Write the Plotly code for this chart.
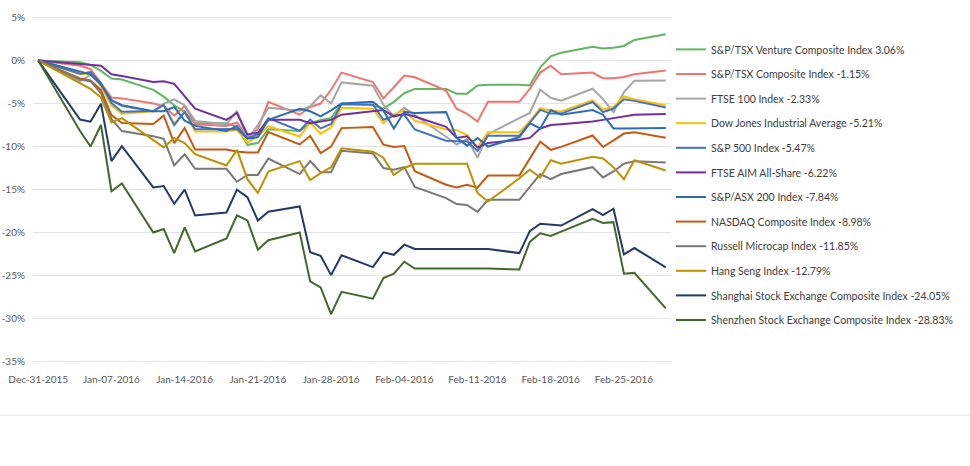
import plotly.graph_objects as go

dates = ["2015-12-31",
         "2016-01-04", "2016-01-05", "2016-01-06", "2016-01-07", "2016-01-08",
         "2016-01-11", "2016-01-12", "2016-01-13", "2016-01-14", "2016-01-15",
         "2016-01-18", "2016-01-19", "2016-01-20", "2016-01-21", "2016-01-22",
         "2016-01-25", "2016-01-26", "2016-01-27", "2016-01-28", "2016-01-29",
         "2016-02-01", "2016-02-02", "2016-02-03", "2016-02-04", "2016-02-05",
         "2016-02-08", "2016-02-09", "2016-02-10", "2016-02-11", "2016-02-12",
         "2016-02-15", "2016-02-16", "2016-02-17", "2016-02-18", "2016-02-19",
         "2016-02-22", "2016-02-23", "2016-02-24", "2016-02-25", "2016-02-26",
         "2016-02-29"]

tsx_venture = [0, -0.2, -0.5, -1.2, -2.1, -2.2, -3.4, -4.2, -5.2, -6.0, -7.3,
               -7.3, -7.7, -9.8, -9.6, -8.0, -8.2, -7.3, -6.9, -6.7, -5.0,
               -5.2, -5.6, -4.8, -3.8, -3.3, -3.3, -3.85, -3.85, -2.9, -2.8,
               -2.8, -2.9, -0.8, 0.5, 0.9, 1.6, 1.4, 1.5, 1.7, 2.4, 3.06]
tsx_comp = [0, -0.6, -1.0, -2.6, -4.3, -4.4, -5.0, -5.3, -6.4, -5.3, -7.4,
            -7.6, -7.2, -8.8, -8.0, -4.8, -6.3, -5.4, -5.0, -3.4, -1.4,
            -2.5, -4.4, -3.1, -1.75, -1.95, -3.5, -5.6, -6.2, -7.1, -4.8,
            -4.8, -3.3, -1.4, -0.6, -1.6, -1.4, -2.05, -2.05, -1.9, -1.6, -1.15]
ftse100 = [0, -2.39, -1.68, -2.71, -4.62, -5.28, -5.94, -5.02, -4.51, -5.19, -7.02,
           -7.41, -5.85, -9.11, -7.51, -5.48, -5.85, -5.30, -4.04, -4.98, -2.54,
           -2.92, -5.13, -6.49, -5.50, -6.32, -8.86, -9.77, -9.13, -11.30, -8.57,
           -6.70, -6.09, -3.40, -4.33, -4.68, -3.28, -4.48, -6.01, -3.68, -2.34, -2.33]
dow = [0, -1.58, -1.53, -2.98, -5.23, -6.19, -5.89, -5.22, -7.31, -6.00, -8.25,
       -8.25, -8.09, -9.52, -8.85, -7.64, -8.84, -7.22, -8.50, -7.78, -5.50,
       -5.60, -7.30, -6.25, -5.79, -7.00, -8.02, -8.10, -8.67, -10.13, -8.33,
       -8.33, -7.05, -5.57, -5.81, -5.93, -4.62, -5.70, -5.40, -4.18, -4.51, -5.21]
sp500 = [0, -1.53, -1.34, -2.63, -4.93, -5.96, -5.88, -5.15, -7.52, -5.97, -8.00,
         -8.00, -7.95, -9.03, -8.56, -6.70, -8.16, -6.86, -7.88, -7.37, -5.07,
         -5.11, -6.89, -6.43, -6.29, -8.02, -9.32, -9.38, -9.40, -10.51, -8.76,
         -8.76, -7.26, -5.73, -6.17, -6.17, -4.82, -6.00, -5.58, -4.51, -4.69, -5.47]
ftse_aim = [0, -0.4, -0.5, -0.6, -1.6, -1.8, -2.5, -2.4, -2.7, -4.2, -5.6,
            -6.9, -6.1, -8.6, -8.4, -6.9, -6.9, -7.3, -7.1, -6.9, -6.3,
            -5.95, -5.75, -6.5, -6.2, -6.5, -7.7, -9.0, -8.8, -10.1, -9.6,
            -9.2, -9.0, -7.9, -7.5, -7.4, -7.1, -6.9, -6.7, -6.5, -6.3, -6.22]
asx200 = [0, -1.3, -1.6, -2.8, -4.6, -5.2, -5.9, -5.9, -5.4, -7.0, -7.6,
          -8.2, -7.6, -9.1, -8.9, -6.9, -5.6, -5.9, -6.5, -5.8, -5.0,
          -4.8, -5.8, -7.9, -5.95, -6.1, -6.0, -9.0, -9.9, -9.0, -10.0,
          -8.9, -7.3, -7.9, -5.75, -6.3, -5.75, -6.3, -7.9, -7.9, -7.9, -7.84]
nasdaq = [0, -2.08, -2.32, -3.43, -6.35, -7.26, -7.38, -6.42, -9.61, -7.84, -10.36,
          -10.36, -10.59, -10.70, -10.69, -8.31, -9.76, -8.78, -10.77, -10.00, -7.86,
          -7.73, -9.79, -10.05, -9.94, -12.87, -14.45, -14.75, -14.45, -14.79, -13.38,
          -13.38, -11.41, -9.45, -10.38, -10.04, -8.72, -10.06, -9.28, -8.49, -8.33, -8.98]
russell_micro = [0, -2.2, -2.4, -3.8, -6.8, -8.2, -8.8, -9.1, -12.2, -10.9, -12.6,
                 -12.6, -14.1, -13.3, -13.3, -11.4, -13.2, -11.7, -13.0, -13.0, -10.5,
                 -10.8, -12.5, -12.7, -12.4, -14.7, -16.0, -16.7, -16.8, -17.6, -16.2,
                 -16.2, -14.7, -13.2, -13.8, -13.2, -12.4, -13.6, -12.9, -12.0, -11.7, -11.85]
hang_seng = [0, -2.7, -3.3, -4.3, -7.2, -6.7, -9.2, -10.1, -9.0, -9.6, -10.9,
             -12.2, -10.4, -13.8, -15.4, -12.9, -11.7, -13.9, -13.1, -12.4, -10.2,
             -10.6, -11.3, -13.3, -12.5, -12.0, -12.0, -12.0, -12.0, -15.4, -16.4,
             -13.7, -12.7, -13.6, -11.6, -12.0, -11.2, -11.4, -12.4, -13.8, -11.6, -12.79]
shanghai = [0, -6.86, -7.11, -5.01, -11.70, -9.97, -14.76, -14.59, -16.66, -15.02, -18.03,
            -17.67, -15.02, -15.89, -18.61, -17.59, -16.97, -22.30, -22.71, -24.96, -22.65,
            -24.03, -22.31, -22.60, -21.42, -21.92, -21.92, -21.92, -21.92, -21.92, -21.92,
            -22.40, -19.85, -18.98, -19.11, -19.19, -17.29, -17.97, -17.24, -22.55, -21.81, -24.05]
shenzhen = [0, -8.2, -10.0, -7.5, -15.2, -14.3, -20.0, -19.6, -22.4, -19.4, -22.2,
            -20.7, -18.0, -18.6, -22.0, -20.9, -20.0, -25.7, -26.4, -29.5, -26.9,
            -27.7, -25.3, -24.8, -23.4, -24.2, -24.2, -24.2, -24.2, -24.2, -24.2,
            -24.3, -21.1, -20.1, -20.4, -19.9, -18.4, -18.9, -18.8, -24.8, -24.7, -28.83]

series_names = ["S&P/TSX Venture Composite Index 3.06%",
                "S&P/TSX Composite Index -1.15%",
                "FTSE 100 Index -2.33%",
                "Dow Jones Industrial Average -5.21%",
                "S&P 500 Index -5.47%",
                "FTSE AIM All-Share -6.22%",
                "S&P/ASX 200 Index -7.84%",
                "NASDAQ Composite Index -8.98%",
                "Russell Microcap Index -11.85%",
                "Hang Seng Index -12.79%",
                "Shanghai Stock Exchange Composite Index -24.05%",
                "Shenzhen Stock Exchange Composite Index -28.83%"]
series_values = [tsx_venture, tsx_comp, ftse100, dow, sp500, ftse_aim, asx200,
                 nasdaq, russell_micro, hang_seng, shanghai, shenzhen]
series_colors = ["#62B562", "#F07470", "#A5A5A5", "#FFC000", "#4472C4", "#7030A0",
                 "#2E6DB4", "#C55A11", "#787878", "#BF9000", "#22396A", "#43682B"]

y_tick_vals = [5, 0, -5, -10, -15, -20, -25, -30, -35]
y_tick_text = ["5%", "0%", "-5%", "-10%", "-15%", "-20%", "-25%", "-30%", "-35%"]
x_tick_vals = ["2015-12-31", "2016-01-07", "2016-01-14", "2016-01-21", "2016-01-28",
               "2016-02-04", "2016-02-11", "2016-02-18", "2016-02-25"]

fig = go.Figure()
for i, (name, vals, col) in enumerate(zip(series_names, series_values, series_colors)):
    fig.add_trace(go.Scatter(x=dates, y=vals, mode="lines", name=name,
                             legendgroup=f"g{i}",
                             line=dict(color=col, width=2)))

font_family = "Lato, Carlito, Calibri, sans-serif"
fig.update_layout(
    width=970, height=466,
    margin=dict(l=33, r=292, t=15, b=102),
    paper_bgcolor="white", plot_bgcolor="white",
    font=dict(family=font_family, color="#595959", size=10),
    showlegend=True,
    legend=dict(x=1.0, xanchor="left", y=0.943, yanchor="top",
                font=dict(size=10.5, color="#404040", family=font_family),
                bgcolor="rgba(0,0,0,0)", itemwidth=30, tracegroupgap=5.6,
                traceorder="grouped"),
    xaxis=dict(type="date", range=["2015-12-30 12:00", "2016-02-29 12:00"],
               tickvals=x_tick_vals, tickformat="%b-%d-%Y",
               showgrid=False, zeroline=False, showline=False, automargin=False,
               ticks="", ticklabelstandoff=8,
               tickfont=dict(size=10, color="#595959")),
    yaxis=dict(range=[-35.3, 5.3], tickvals=y_tick_vals, ticktext=y_tick_text,
               showgrid=True, gridcolor="#E3E3E3", gridwidth=1, automargin=False,
               zeroline=False, showline=False, ticks="", ticklabelstandoff=7,
               tickfont=dict(size=10, color="#595959")),
    shapes=[dict(type="line", xref="paper", yref="paper", x0=-0.06, x1=1.5,
                 y0=-0.147, y1=-0.147, line=dict(color="#E6E6E6", width=1))],
)

fig.write_html("out.html", config={"displayModeBar": False},
               post_script="document.body.style.margin='0';document.body.style.overflow='hidden';")
